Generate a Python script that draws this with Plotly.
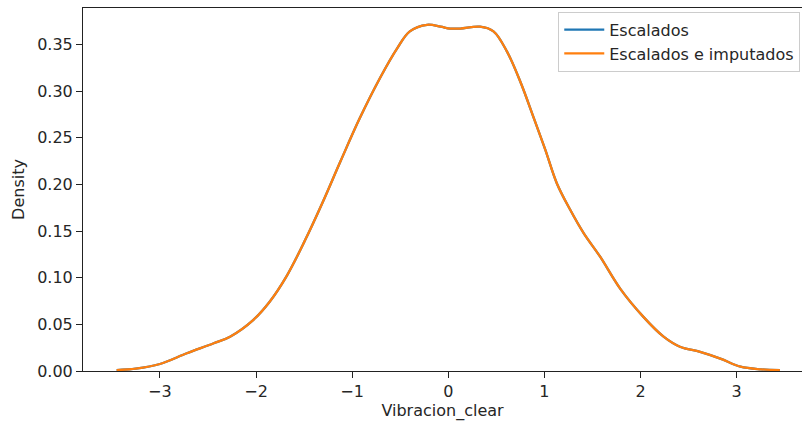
import plotly.graph_objects as go

# Data (KDE curves)
x_vals = [-3.45, -3.25, -3.0, -2.72, -2.44, -2.27, -2.03, -1.86, -1.68, -1.49,
          -1.31, -1.12, -0.92, -0.71, -0.53, -0.40, -0.22, -0.08, 0.02, 0.125, 0.33,
          0.47, 0.61, 0.75, 0.89, 1.01, 1.13, 1.27, 1.41, 1.58, 1.79, 2.03,
          2.24, 2.41, 2.62, 2.83, 3.04, 3.25, 3.45]
escalados = [0.001, 0.0025, 0.0075, 0.019, 0.0297, 0.0368, 0.0546, 0.074, 0.102, 0.140,
             0.180, 0.225, 0.271, 0.314, 0.346, 0.364, 0.371, 0.369, 0.367, 0.367, 0.369,
             0.364, 0.3425, 0.310, 0.271, 0.237, 0.201, 0.1725, 0.1475, 0.1225, 0.088, 0.058,
             0.0368, 0.026, 0.0205, 0.0133, 0.0046, 0.0018, 0.001]
imputados = [0.001, 0.0025, 0.0075, 0.019, 0.0297, 0.0368, 0.0546, 0.074, 0.102, 0.140,
             0.180, 0.225, 0.271, 0.314, 0.346, 0.364, 0.371, 0.369, 0.367, 0.367, 0.369,
             0.364, 0.3425, 0.310, 0.271, 0.237, 0.201, 0.1725, 0.1475, 0.1225, 0.088, 0.058,
             0.0368, 0.026, 0.0205, 0.0133, 0.0046, 0.0018, 0.001]

x_ticks = [-3, -2, -1, 0, 1, 2, 3]
x_tick_labels = ["−3", "−2", "−1", "0", "1", "2", "3"]
y_ticks = [0.0, 0.05, 0.10, 0.15, 0.20, 0.25, 0.30, 0.35]
y_tick_labels = ["0.00", "0.05", "0.10", "0.15", "0.20", "0.25", "0.30", "0.35"]

FONT = "DejaVu Sans"
TXT = "#262626"
FS = 16

fig = go.Figure()
fig.add_trace(go.Scatter(x=x_vals, y=escalados, mode="lines", name="Escalados",
                         line=dict(color="#1f77b4", width=2.3, shape="spline", smoothing=1.0)))
fig.add_trace(go.Scatter(x=x_vals, y=imputados, mode="lines", name="Escalados e imputados",
                         line=dict(color="#ff7f0e", width=2.3, shape="spline", smoothing=1.0)))

fig.update_layout(
    width=802, height=423,
    margin=dict(l=83, r=0, t=8, b=52, autoexpand=False),
    paper_bgcolor="white", plot_bgcolor="white",
    font=dict(family=FONT, size=FS, color=TXT),
    showlegend=True,
    legend=dict(x=0.661, y=0.99, xanchor="left", yanchor="top",
                bgcolor="rgba(255,255,255,0.8)", bordercolor="#cccccc", borderwidth=1,
                itemwidth=40,
                font=dict(family=FONT, size=FS, color=TXT), tracegroupgap=0),
)
fig.update_xaxes(
    range=[-3.80, 3.68], showgrid=False, zeroline=False,
    showline=True, linecolor="#222", linewidth=1, mirror=True,
    ticks="outside", ticklen=6, tickcolor="#222", tickwidth=1,
    tickvals=x_ticks, ticktext=x_tick_labels,
    title=dict(text="Vibracion_clear", font=dict(family=FONT, size=FS, color=TXT), standoff=4),
)
fig.update_yaxes(
    range=[0, 0.389], showgrid=False, zeroline=False,
    showline=True, linecolor="#222", linewidth=1, mirror=False,
    ticks="outside", ticklen=6, tickcolor="#222", tickwidth=1,
    tickvals=y_ticks, ticktext=y_tick_labels,
    title=dict(text="Density", font=dict(family=FONT, size=FS, color=TXT), standoff=8),
)

fig.write_html("out.html", config={"displayModeBar": False},
               post_script="document.body.style.margin='0px';")
